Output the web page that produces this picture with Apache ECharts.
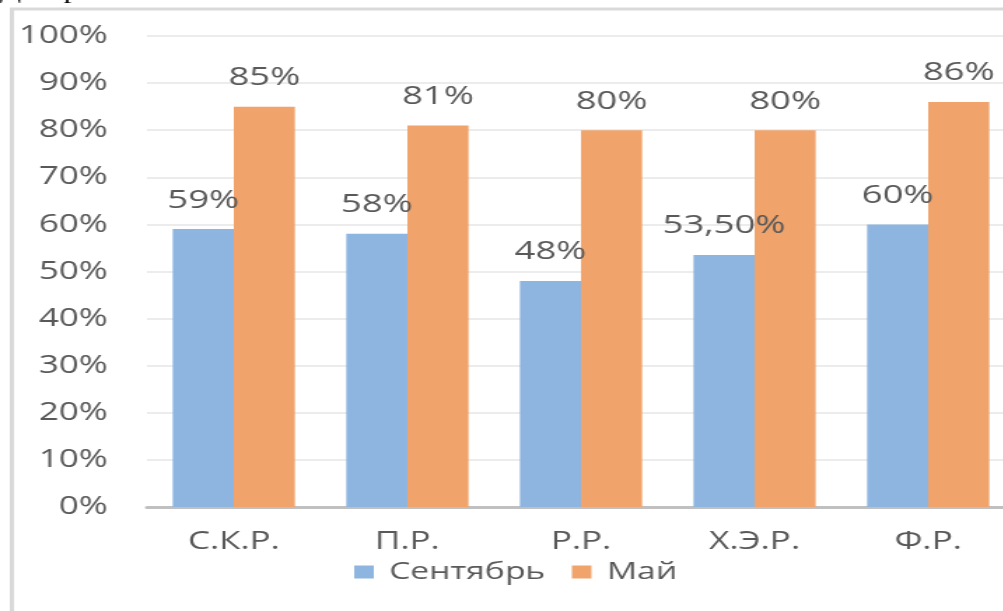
<!DOCTYPE html>
<html>
<head>
<meta charset="utf-8">
<script src="https://cdn.jsdelivr.net/npm/echarts@6/dist/echarts.min.js"></script>
<style>
  html, body { margin: 0; padding: 0; background: #fff; overflow: hidden; width: 1003px; height: 611px; }
  /* the source picture is stretched sideways, so draw narrow and stretch */
  #chart { width: 725px; height: 611px; transform: scaleX(1.4); transform-origin: 0 0; }
</style>
</head>
<body>
<div id="chart"></div>
<script>
// Data
const categories = ['С.К.Р.', 'П.Р.', 'Р.Р.', 'Х.Э.Р.', 'Ф.Р.'];
const september  = [59, 58, 48, 53.5, 60];
const may        = [85, 81, 80, 80, 86];
const seriesNames = ['Сентябрь', 'Май'];

const FONT = '"Open Sans", "Noto Sans", sans-serif';
const TEXT = '#595959';

// Excel-style: whole numbers as "59%", fractions as "53,50%"
function pct(v) {
  return Number.isInteger(v) ? v + '%' : v.toFixed(2).replace('.', ',') + '%';
}

const labelStyle = {
  show: true,
  position: 'top',
  distance: 16,
  color: TEXT,
  fontFamily: FONT,
  fontSize: 26,
  formatter: p => pct(p.value),
};

const chart = echarts.init(document.getElementById('chart'));
chart.setOption({
  backgroundColor: '#fff',
  animation: false,
  graphic: [
    // clipped page text above the chart frame
    { type: 'text', left: 0, top: -19, style: { text: 'Диаграмма', font: '22px "Liberation Serif", serif', fill: '#000' } },
    // chart frame running off the right and bottom edges
    { type: 'rect', shape: { x: 8.5, y: 9, width: 900, height: 800 }, style: { fill: 'none', stroke: '#d9d9d9', lineWidth: 3 }, z: 10 },
  ],
  grid: { left: 105, right: 0, top: 36, bottom: 104 },
  legend: {
    data: seriesNames,
    left: 248,
    top: 555,
    itemWidth: 14,
    itemHeight: 13,
    itemGap: 19,
    icon: 'rect',
    textStyle: { color: TEXT, fontFamily: FONT, fontSize: 24, padding: [0, 0, 0, 6] },
  },
  xAxis: {
    type: 'category',
    data: categories,
    axisLine: { lineStyle: { color: '#c0c0c0', width: 3 } },
    axisTick: { show: false },
    axisLabel: { color: TEXT, fontFamily: FONT, fontSize: 25, margin: 22 },
  },
  yAxis: {
    type: 'value',
    min: 0, max: 100, interval: 10,
    axisLine: { show: false },
    axisTick: { show: false },
    axisLabel: { color: TEXT, fontFamily: FONT, fontSize: 25, margin: 28, formatter: '{value}%' },
    splitLine: { lineStyle: { color: '#ececec', width: 2 } },
  },
  series: [
    {
      name: seriesNames[0],
      type: 'bar',
      data: september,
      barGap: '0%',
      barCategoryGap: '29.6%',
      itemStyle: { color: '#8db5e0' },
      label: labelStyle,
    },
    {
      name: seriesNames[1],
      type: 'bar',
      data: may,
      itemStyle: { color: '#f0a46c' },
      label: labelStyle,
    },
  ],
});
</script>
</body>
</html>
